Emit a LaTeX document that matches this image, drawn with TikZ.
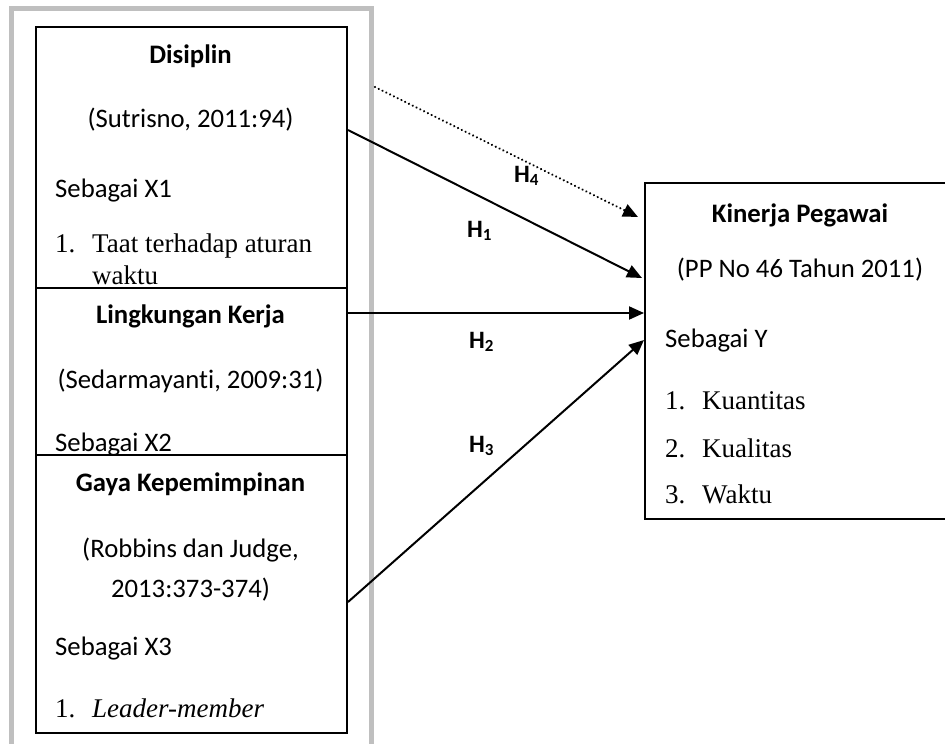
\documentclass[tikz,border=0pt]{standalone}
\usepackage{fontspec}
\setmainfont[Ligatures=NoCommon]{Carlito}
\newfontfamily\timesf{Liberation Serif}
\usetikzlibrary{arrows.meta}
\begin{document}
\begin{tikzpicture}[x=1pt,y=-1pt,
  box/.style={draw=black,line width=2pt,anchor=north west,inner sep=0pt},
  frame/.style={draw=black!25,line width=5pt},
  ctext/.style={anchor=base,inner sep=0pt,font=\fontsize{26.7}{31}\selectfont},
  ltext/.style={anchor=base west,inner sep=0pt,font=\fontsize{26.7}{31}\selectfont},
  ttext/.style={anchor=base west,inner sep=0pt,font=\timesf\fontsize{27}{31}\selectfont},
  title/.style={ctext,font=\fontsize{26.7}{31}\selectfont\bfseries},
  hlab/.style={anchor=base west,inner sep=0pt,font=\fontsize{25}{29}\selectfont\bfseries},
  arr/.style={line width=2pt,-{Triangle[length=15pt,width=13pt]}},
  darr/.style={line width=2.4pt,line cap=round,dash pattern=on 0.01pt off 4.2pt,-{Triangle[length=15pt,width=13pt,line cap=butt]}}
]
\useasboundingbox (0,0) rectangle (945,744);
% gray frame (bottom clipped)
\draw[frame] (11,760) -- (11,8) -- (371.5,8) -- (371.5,760);
% left boxes
\node[box,minimum width=311pt,minimum height=261pt] (b1) at (35,26) {};
\node[box,minimum width=311pt,minimum height=167pt] (b2) at (35,287) {};
\node[box,minimum width=311pt,minimum height=278pt] (b3) at (35,454) {};
% right box (extends beyond right edge)
\node[box,minimum width=320pt,minimum height=336pt] (y) at (644,182) {};

% texts box 1
\node[title] (t1) at (190.5,63) {Disiplin};
\node[ctext] (t1a) at (190.5,127) {(Sutrisno, 2011:94)};
\node[ltext] (t1b) at (55,197) {Sebagai X1};
\node[ttext] (t1c) at (55,252) {1.};
\node[ttext] (t1d) at (92,252) {Taat terhadap aturan};
\node[ttext] (t1e) at (92,284) {waktu};
% texts box 2
\node[title] (t2) at (190.5,323) {Lingkungan Kerja};
\node[ctext] (t2a) at (190.5,388) {(Sedarmayanti, 2009:31)};
\node[ltext] (t2b) at (55,451) {Sebagai X2};
% texts box 3
\node[title] (t3) at (190.5,491) {Gaya Kepemimpinan};
\node[ctext] (t3a) at (190.5,557) {(Robbins dan Judge,};
\node[ctext] (t3b) at (190.5,597) {2013:373-374)};
\node[ltext] (t3c) at (55,655) {Sebagai X3};
\node[ttext] (t3d) at (55,717) {1.};
\node[ttext] (t3e) at (92,717) {\itshape Leader-member};
% texts right box
\node[title] (ty) at (800,222) {Kinerja Pegawai};
\node[ctext] (tya) at (800,277) {(PP No 46 Tahun 2011)};
\node[ltext] (tyb) at (665,347) {Sebagai Y};
\node[ttext] (ty1) at (665,409) {1.};
\node[ttext] (ty1t) at (702,409) {Kuantitas};
\node[ttext] (ty2) at (665,457) {2.};
\node[ttext] (ty2t) at (702,457) {Kualitas};
\node[ttext] (ty3) at (665,503) {3.};
\node[ttext] (ty3t) at (702,503) {Waktu};

% connector anchors
\coordinate (s4) at (375,87);
\coordinate (e4) at (638,217);
\path (b1.north east) ++(0,104) coordinate (s1);
\path (y.north west) ++(-2,96) coordinate (e1);
\path (b2.north east) ++(0,26) coordinate (s2);
\path (y.north west) ++(0,131) coordinate (e2);
\path (b3.north east) ++(0,148) coordinate (s3);
\path (y.north west) ++(0,158) coordinate (e3);

\draw[darr] (s4) -- (e4);
\draw[arr] (s1) -- (e1);
\draw[arr] (s2) -- (e2);
\draw[arr] (s3) -- (e3);

% labels
\node[hlab] (h4) at (514,182) {H\raisebox{-0.12em}{\fontsize{17}{17}\selectfont 4}};
\node[hlab] (h1) at (467,237) {H\raisebox{-0.12em}{\fontsize{17}{17}\selectfont 1}};
\node[hlab] (h2) at (469,348) {H\raisebox{-0.12em}{\fontsize{17}{17}\selectfont 2}};
\node[hlab] (h3) at (469,452) {H\raisebox{-0.12em}{\fontsize{17}{17}\selectfont 3}};
\end{tikzpicture}
\end{document}
